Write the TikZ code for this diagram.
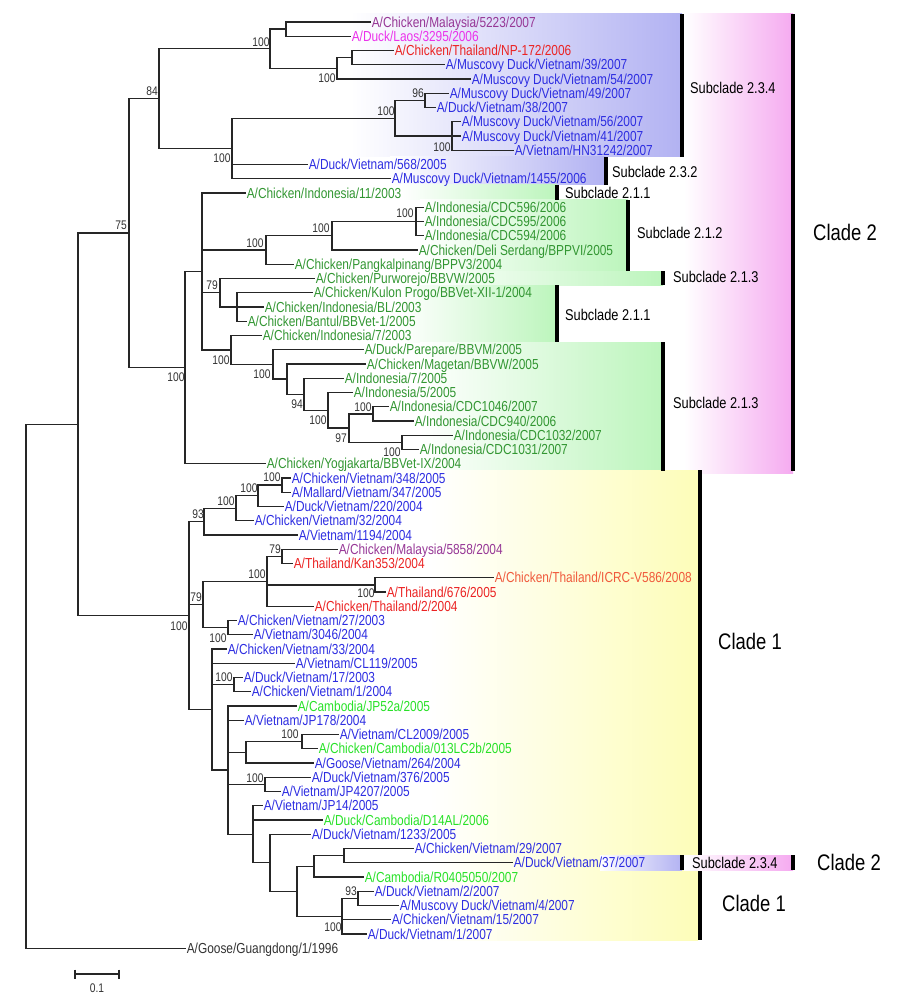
\documentclass[tikz,border=0pt]{standalone}
\usepackage{fontspec}
\setmainfont{Liberation Sans}[FakeStretch=0.82]
\definecolor{cBlue}{RGB}{45,45,225}
\definecolor{cDG}{RGB}{50,150,50}
\definecolor{cLG}{RGB}{40,225,40}
\definecolor{cPur}{RGB}{150,55,150}
\definecolor{cMag}{RGB}{235,50,235}
\definecolor{cRed}{RGB}{235,35,35}
\definecolor{cOra}{RGB}{240,90,60}
\definecolor{bgBlue}{RGB}{178,178,242}
\definecolor{bgGreen}{RGB}{188,245,188}
\definecolor{bgYellow}{RGB}{253,253,185}
\definecolor{bgPink}{RGB}{245,170,240}
\newcommand\brE[2]{\draw[br] (#1 |- #2) -- (#2);}
\newcommand\brV[3]{\draw[br] (#1 |- #2) -- (#1 |- #3);}
\begin{document}
\begin{tikzpicture}[x=1pt,y=-1pt,
  lf/.style={anchor=west, inner xsep=1.6pt, inner ysep=0pt, font=\fontsize{14.5}{15}\selectfont, text height=10.2pt, text depth=0pt},
  bs/.style={font=\fontsize{12.5}{13}\selectfont, inner sep=0pt, text=black!80},
  br/.style={line width=1.25pt, draw=black!85, line cap=rect},
  bar/.style={fill=black},
  sub/.style={anchor=west, font=\fontsize{15.6}{16}\selectfont, inner sep=0pt},
  cld/.style={anchor=west, font=\fontsize{22.5}{23}\selectfont, inner sep=0pt}]
\useasboundingbox (0,0) rectangle (900,1000);
% ---------- background shadings ----------
\fill[left color=white, right color=bgBlue] (350,14) rectangle (682,157);
\fill[left color=white, right color=bgBlue] (390,157) rectangle (605,185);
\fill[left color=white, right color=bgGreen] (400,185) rectangle (557,200);
\fill[left color=white, right color=bgGreen] (420,200) rectangle (628,271);
\fill[left color=white, right color=bgGreen] (420,271) rectangle (663,285);
\fill[left color=white, right color=bgGreen] (400,285) rectangle (557,342);
\fill[left color=white, right color=bgGreen] (420,342) rectangle (663,471);
\fill[left color=white, right color=bgPink] (684,14) rectangle (793,473);
\fill[left color=white, right color=bgYellow] (430,470) rectangle (698,940);
% ---------- bars ----------
\fill[bar] (680,14) rectangle (684,157);
\fill[bar] (604,157) rectangle (608,185);
\fill[bar] (555,185) rectangle (559,200);
\fill[bar] (626,200) rectangle (630,271);
\fill[bar] (661,271) rectangle (665,285);
\fill[bar] (555,285) rectangle (559,342);
\fill[bar] (661,342) rectangle (665,471);
\fill[bar] (791,14) rectangle (795,471);
\fill[bar] (698,470) rectangle (702,940);
% lower strip
\fill[left color=white, right color=bgBlue] (600,855) rectangle (682,870);
\fill[left color=white, right color=bgPink] (684,855) rectangle (793,870);
\fill[bar] (680,855) rectangle (684,870);
\fill[bar] (791,855) rectangle (795,870);
% ---------- clade labels ----------
\node[sub] (s1) at (690,88) {Subclade 2.3.4};
\node[sub] (s2) at (612,172) {Subclade 2.3.2};
\node[sub] (s3) at (565,193) {Subclade 2.1.1};
\node[sub] (s4) at (637,233) {Subclade 2.1.2};
\node[sub] (s5) at (673,277) {Subclade 2.1.3};
\node[sub] (s6) at (565,315) {Subclade 2.1.1};
\node[sub] (s7) at (673,403) {Subclade 2.1.3};
\node[sub] (s8) at (692,863) {Subclade 2.3.4};
\node[cld] (c1) at (813,232) {Clade 2};
\node[cld] (c2) at (718,641) {Clade 1};
\node[cld] (c3) at (817,862) {Clade 2};
\node[cld] (c4) at (722,903) {Clade 1};
% ---------- leaves ----------
\node[lf,text=cPur] (L0) at (370,22) {A/Chicken/Malaysia/5223/2007};
\node[lf,text=cMag] (L1) at (350,36.25) {A/Duck/Laos/3295/2006};
\node[lf,text=cRed] (L2) at (393,50.5) {A/Chicken/Thailand/NP-172/2006};
\node[lf,text=cBlue] (L3) at (444,64.75) {A/Muscovy Duck/Vietnam/39/2007};
\node[lf,text=cBlue] (L4) at (470,79) {A/Muscovy Duck/Vietnam/54/2007};
\node[lf,text=cBlue] (L5) at (448,93.25) {A/Muscovy Duck/Vietnam/49/2007};
\node[lf,text=cBlue] (L6) at (435,107.5) {A/Duck/Vietnam/38/2007};
\node[lf,text=cBlue] (L7) at (460,121.75) {A/Muscovy Duck/Vietnam/56/2007};
\node[lf,text=cBlue] (L8) at (460,136) {A/Muscovy Duck/Vietnam/41/2007};
\node[lf,text=cBlue] (L9) at (513,150.25) {A/Vietnam/HN31242/2007};
\node[lf,text=cBlue] (L10) at (307,164.5) {A/Duck/Vietnam/568/2005};
\node[lf,text=cBlue] (L11) at (390,178.75) {A/Muscovy Duck/Vietnam/1455/2006};
\node[lf,text=cDG] (L12) at (245,193) {A/Chicken/Indonesia/11/2003};
\node[lf,text=cDG] (L13) at (423,207.25) {A/Indonesia/CDC596/2006};
\node[lf,text=cDG] (L14) at (423,221.5) {A/Indonesia/CDC595/2006};
\node[lf,text=cDG] (L15) at (423,235.75) {A/Indonesia/CDC594/2006};
\node[lf,text=cDG] (L16) at (417,250) {A/Chicken/Deli Serdang/BPPVI/2005};
\node[lf,text=cDG] (L17) at (293,264.25) {A/Chicken/Pangkalpinang/BPPV3/2004};
\node[lf,text=cDG] (L18) at (314,278.5) {A/Chicken/Purworejo/BBVW/2005};
\node[lf,text=cDG] (L19) at (312,292.75) {A/Chicken/Kulon Progo/BBVet-XII-1/2004};
\node[lf,text=cDG] (L20) at (263,307) {A/Chicken/Indonesia/BL/2003};
\node[lf,text=cDG] (L21) at (246,321.25) {A/Chicken/Bantul/BBVet-1/2005};
\node[lf,text=cDG] (L22) at (261,335.5) {A/Chicken/Indonesia/7/2003};
\node[lf,text=cDG] (L23) at (363,349.75) {A/Duck/Parepare/BBVM/2005};
\node[lf,text=cDG] (L24) at (365,364) {A/Chicken/Magetan/BBVW/2005};
\node[lf,text=cDG] (L25) at (343,378.25) {A/Indonesia/7/2005};
\node[lf,text=cDG] (L26) at (352,392.5) {A/Indonesia/5/2005};
\node[lf,text=cDG] (L27) at (388,406.75) {A/Indonesia/CDC1046/2007};
\node[lf,text=cDG] (L28) at (413,421) {A/Indonesia/CDC940/2006};
\node[lf,text=cDG] (L29) at (452,435.25) {A/Indonesia/CDC1032/2007};
\node[lf,text=cDG] (L30) at (418,449.5) {A/Indonesia/CDC1031/2007};
\node[lf,text=cDG] (L31) at (265,463.75) {A/Chicken/Yogjakarta/BBVet-IX/2004};
\node[lf,text=cBlue] (L32) at (290,478) {A/Chicken/Vietnam/348/2005};
\node[lf,text=cBlue] (L33) at (290,492.25) {A/Mallard/Vietnam/347/2005};
\node[lf,text=cBlue] (L34) at (283,506.5) {A/Duck/Vietnam/220/2004};
\node[lf,text=cBlue] (L35) at (253,520.75) {A/Chicken/Vietnam/32/2004};
\node[lf,text=cBlue] (L36) at (297,535) {A/Vietnam/1194/2004};
\node[lf,text=cPur] (L37) at (337,549.25) {A/Chicken/Malaysia/5858/2004};
\node[lf,text=cRed] (L38) at (292,563.5) {A/Thailand/Kan353/2004};
\node[lf,text=cOra] (L39) at (493,577.75) {A/Chicken/Thailand/ICRC-V586/2008};
\node[lf,text=cRed] (L40) at (385,592) {A/Thailand/676/2005};
\node[lf,text=cRed] (L41) at (313,606.25) {A/Chicken/Thailand/2/2004};
\node[lf,text=cBlue] (L42) at (236,620.5) {A/Chicken/Vietnam/27/2003};
\node[lf,text=cBlue] (L43) at (252,634.75) {A/Vietnam/3046/2004};
\node[lf,text=cBlue] (L44) at (226,649) {A/Chicken/Vietnam/33/2004};
\node[lf,text=cBlue] (L45) at (294,663.25) {A/Vietnam/CL119/2005};
\node[lf,text=cBlue] (L46) at (242,677.5) {A/Duck/Vietnam/17/2003};
\node[lf,text=cBlue] (L47) at (250,691.75) {A/Chicken/Vietnam/1/2004};
\node[lf,text=cLG] (L48) at (296,706) {A/Cambodia/JP52a/2005};
\node[lf,text=cBlue] (L49) at (243,720.25) {A/Vietnam/JP178/2004};
\node[lf,text=cBlue] (L50) at (338,734.5) {A/Vietnam/CL2009/2005};
\node[lf,text=cLG] (L51) at (317,748.75) {A/Chicken/Cambodia/013LC2b/2005};
\node[lf,text=cBlue] (L52) at (313,763) {A/Goose/Vietnam/264/2004};
\node[lf,text=cBlue] (L53) at (310,777.25) {A/Duck/Vietnam/376/2005};
\node[lf,text=cBlue] (L54) at (280,791.5) {A/Vietnam/JP4207/2005};
\node[lf,text=cBlue] (L55) at (262,805.75) {A/Vietnam/JP14/2005};
\node[lf,text=cLG] (L56) at (322,820) {A/Duck/Cambodia/D14AL/2006};
\node[lf,text=cBlue] (L57) at (310,834.25) {A/Duck/Vietnam/1233/2005};
\node[lf,text=cBlue] (L58) at (413,848.5) {A/Chicken/Vietnam/29/2007};
\node[lf,text=cBlue] (L59) at (512,862.75) {A/Duck/Vietnam/37/2007};
\node[lf,text=cLG] (L60) at (363,877) {A/Cambodia/R0405050/2007};
\node[lf,text=cBlue] (L61) at (373,891.25) {A/Duck/Vietnam/2/2007};
\node[lf,text=cBlue] (L62) at (398,905.5) {A/Muscovy Duck/Vietnam/4/2007};
\node[lf,text=cBlue] (L63) at (390,919.75) {A/Chicken/Vietnam/15/2007};
\node[lf,text=cBlue] (L64) at (366,934) {A/Duck/Vietnam/1/2007};
\node[lf,text=black!80] (L65) at (185,948.25) {A/Goose/Guangdong/1/1996};
% ---------- internal nodes ----------
\coordinate (r) at (26,686);
\coordinate (nA) at (78,424.4);
\coordinate (c75) at (129,233.1);
\coordinate (n159) at (159,98.6);
\coordinate (n270) at (270,48.7);
\coordinate (n286) at (286,29.1);
\coordinate (n337) at (337,68.3);
\coordinate (n352) at (352,57.6);
\coordinate (n232) at (232,148.5);
\coordinate (n395) at (395,118.2);
\coordinate (n425) at (425,100.4);
\coordinate (n452) at (452,136);
\coordinate (n185) at (185,367.6);
\coordinate (n202) at (202,271.5);
\coordinate (n266) at (266,250);
\coordinate (n332) at (332,235.75);
\coordinate (n416) at (416,221.5);
\coordinate (n220) at (220,292.75);
\coordinate (n237) at (237,307);
\coordinate (n231) at (231,350);
\coordinate (n273) at (273,364.4);
\coordinate (n287) at (287,379.1);
\coordinate (n304) at (304,394.3);
\coordinate (n328) at (328,410.3);
\coordinate (n349) at (349,428.1);
\coordinate (n373) at (373,413.9);
\coordinate (n402) at (402,442.4);
\coordinate (n189) at (189,615.6);
\coordinate (n204) at (204,521.6);
\coordinate (n236) at (236,508.3);
\coordinate (n258) at (258,495.8);
\coordinate (n282a) at (282,485.1);
\coordinate (n203) at (203,604.5);
\coordinate (n267) at (267,581.3);
\coordinate (n282b) at (282,556.4);
\coordinate (n375) at (375,584.9);
\coordinate (n228b) at (228,627.6);
\coordinate (n211) at (212,709.6);
\coordinate (n234) at (234,684.6);
\coordinate (n228) at (228,770.1);
\coordinate (n246) at (246,752.3);
\coordinate (n302) at (302,741.6);
\coordinate (n265) at (265,784.4);
\coordinate (n253) at (253,834.25);
\coordinate (n270b) at (270,862.75);
\coordinate (n297) at (297,891.25);
\coordinate (n314) at (314,866.3);
\coordinate (n344) at (344,855.6);
\coordinate (n342) at (342,916.2);
\coordinate (n358) at (358,898.4);
% ---------- branches ----------
\brV{r}{nA}{L65.west} \brE{r}{nA} \brE{r}{L65.west}
\brV{nA}{c75}{n189} \brE{nA}{c75} \brE{nA}{n189}
\brV{c75}{n159}{n185} \brE{c75}{n159} \brE{c75}{n185}
\brV{n159}{n270}{n232} \brE{n159}{n270} \brE{n159}{n232}
\brV{n270}{n286}{n337} \brE{n270}{n286} \brE{n270}{n337}
\brV{n286}{L0.west}{L1.west} \brE{n286}{L0.west} \brE{n286}{L1.west}
\brV{n337}{n352}{L4.west} \brE{n337}{n352} \brE{n337}{L4.west}
\brV{n352}{L2.west}{L3.west} \brE{n352}{L2.west} \brE{n352}{L3.west}
\brV{n232}{n395}{L11.west} \brE{n232}{n395} \brE{n232}{L10.west} \brE{n232}{L11.west}
\brV{n395}{n425}{n452} \brE{n395}{n425} \brE{n395}{n452}
\brV{n425}{L5.west}{L6.west} \brE{n425}{L5.west} \brE{n425}{L6.west}
\brV{n452}{L7.west}{L9.west} \brE{n452}{L7.west} \brE{n452}{L8.west} \brE{n452}{L9.west}
\brV{n185}{n202}{L31.west} \brE{n185}{n202} \brE{n185}{L31.west}
\brV{n202}{L12.west}{n231} \brE{n202}{L12.west} \brE{n202}{n266} \brE{n202}{n220} \brE{n202}{n231}
\brV{n266}{n332}{L17.west} \brE{n266}{n332} \brE{n266}{L17.west}
\brV{n332}{n416}{L16.west} \brE{n332}{n416} \brE{n332}{L16.west}
\brV{n416}{L13.west}{L15.west} \brE{n416}{L13.west} \brE{n416}{L14.west} \brE{n416}{L15.west}
\brV{n220}{L18.west}{n237} \brE{n220}{L18.west} \brE{n220}{n237}
\brV{n237}{L19.west}{L21.west} \brE{n237}{L19.west} \brE{n237}{L20.west} \brE{n237}{L21.west}
\brV{n231}{L22.west}{n273} \brE{n231}{L22.west} \brE{n231}{n273}
\brV{n273}{L23.west}{n287} \brE{n273}{L23.west} \brE{n273}{n287}
\brV{n287}{L24.west}{n304} \brE{n287}{L24.west} \brE{n287}{n304}
\brV{n304}{L25.west}{n328} \brE{n304}{L25.west} \brE{n304}{n328}
\brV{n328}{L26.west}{n349} \brE{n328}{L26.west} \brE{n328}{n349}
\brV{n349}{n373}{n402} \brE{n349}{n373} \brE{n349}{n402}
\brV{n373}{L27.west}{L28.west} \brE{n373}{L27.west} \brE{n373}{L28.west}
\brV{n402}{L29.west}{L30.west} \brE{n402}{L29.west} \brE{n402}{L30.west}
\brV{n189}{n204}{n211} \brE{n189}{n204} \brE{n189}{n203} \brE{n189}{n211}
\brV{n204}{n236}{L36.west} \brE{n204}{n236} \brE{n204}{L36.west}
\brV{n236}{n258}{L35.west} \brE{n236}{n258} \brE{n236}{L35.west}
\brV{n258}{n282a}{L34.west} \brE{n258}{n282a} \brE{n258}{L34.west}
\brV{n282a}{L32.west}{L33.west} \brE{n282a}{L32.west} \brE{n282a}{L33.west}
\brV{n203}{n267}{n228b} \brE{n203}{n267} \brE{n203}{n228b}
\brV{n267}{n282b}{L41.west} \brE{n267}{n282b} \brE{n267}{n375} \brE{n267}{L41.west}
\brV{n282b}{L37.west}{L38.west} \brE{n282b}{L37.west} \brE{n282b}{L38.west}
\brV{n375}{L39.west}{L40.west} \brE{n375}{L39.west} \brE{n375}{L40.west}
\brV{n228b}{L42.west}{L43.west} \brE{n228b}{L42.west} \brE{n228b}{L43.west}
\brV{n211}{L44.west}{n228} \brE{n211}{L44.west} \brE{n211}{L45.west} \brE{n211}{n234} \brE{n211}{n228}
\brV{n234}{L46.west}{L47.west} \brE{n234}{L46.west} \brE{n234}{L47.west}
\brV{n228}{L48.west}{n253} \brE{n228}{L48.west} \brE{n228}{L49.west} \brE{n228}{n246} \brE{n228}{n265} \brE{n228}{n253}
\brV{n246}{n302}{L52.west} \brE{n246}{n302} \brE{n246}{L52.west}
\brV{n302}{L50.west}{L51.west} \brE{n302}{L50.west} \brE{n302}{L51.west}
\brV{n265}{L53.west}{L54.west} \brE{n265}{L53.west} \brE{n265}{L54.west}
\brV{n253}{L55.west}{n270b} \brE{n253}{L55.west} \brE{n253}{L56.west} \brE{n253}{n270b}
\brV{n270b}{L57.west}{n297} \brE{n270b}{L57.west} \brE{n270b}{n297}
\brV{n297}{n314}{n342} \brE{n297}{n314} \brE{n297}{n342}
\brV{n314}{n344}{L60.west} \brE{n314}{n344} \brE{n314}{L60.west}
\brV{n344}{L58.west}{L59.west} \brE{n344}{L58.west} \brE{n344}{L59.west}
\brV{n342}{n358}{L64.west} \brE{n342}{n358} \brE{n342}{L63.west} \brE{n342}{L64.west}
\brV{n358}{L61.west}{L62.west} \brE{n358}{L61.west} \brE{n358}{L62.west}
% ---------- bootstrap values ----------
\node[bs] (b1) at (121,225) {75};
\node[bs] (b2) at (152,91) {84};
\node[bs] (b3) at (261,42) {100};
\node[bs] (b4) at (327,78) {100};
\node[bs] (b5) at (386,111) {100};
\node[bs] (b6) at (418,93) {96};
\node[bs] (b7) at (442,147) {100};
\node[bs] (b8) at (222,158) {100};
\node[bs] (b9) at (176,377) {100};
\node[bs] (b10) at (255,243) {100};
\node[bs] (b11) at (321,228) {100};
\node[bs] (b12) at (405,213) {100};
\node[bs] (b13) at (212,285) {79};
\node[bs] (b14) at (221,360) {100};
\node[bs] (b15) at (262,374) {100};
\node[bs] (b16) at (297,404) {94};
\node[bs] (b17) at (318,420) {100};
\node[bs] (b18) at (341,438) {97};
\node[bs] (b19) at (363,407) {100};
\node[bs] (b20) at (392,452) {100};
\node[bs] (b21) at (179,626) {100};
\node[bs] (b22) at (198,514) {93};
\node[bs] (b23) at (226,501) {100};
\node[bs] (b24) at (249,488) {100};
\node[bs] (b25) at (272,477) {100};
\node[bs] (b26) at (196,597) {79};
\node[bs] (b27) at (257,574) {100};
\node[bs] (b28) at (275,549) {79};
\node[bs] (b29) at (366,593) {100};
\node[bs] (b30) at (218,638) {100};
\node[bs] (b31) at (224,677) {100};
\node[bs] (b32) at (290,734) {100};
\node[bs] (b33) at (255,778) {100};
\node[bs] (b34) at (351,891) {93};
\node[bs] (b35) at (333,927) {100};
% ---------- scale bar ----------
\coordinate (sb1) at (75,974);
\coordinate (sb2) at (119,974);
\draw[line width=1.3pt, black!85] (sb1) -- (sb2);
\draw[line width=1.3pt, black!85] ([yshift=4.5pt]sb1) -- ([yshift=-4.5pt]sb1);
\draw[line width=1.3pt, black!85] ([yshift=4.5pt]sb2) -- ([yshift=-4.5pt]sb2);
\node[bs] (sbl) at (97,988) {0.1};
\end{tikzpicture}
\end{document}
